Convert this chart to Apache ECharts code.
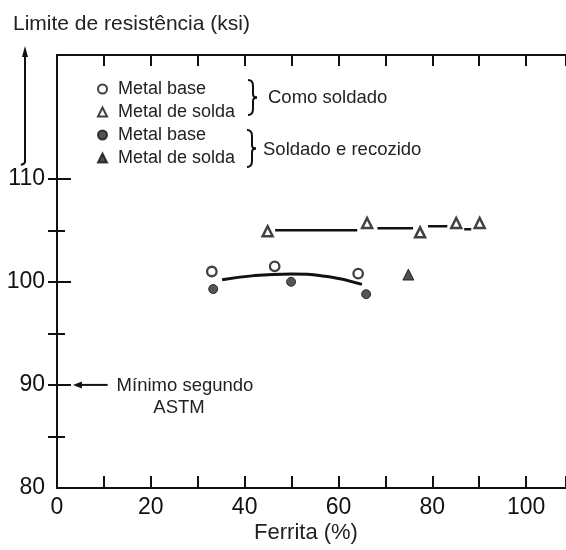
<!DOCTYPE html>
<html><head><meta charset="utf-8">
<script src="https://cdn.jsdelivr.net/npm/echarts@6/dist/echarts.min.js"></script>
<style>html,body{margin:0;padding:0;background:#fff}#c{width:566px;height:550px}</style>
</head><body><div id="c"></div>
<script>
// ---- data ----
const baseAsWeldedX = [33.0, 46.4, 64.2];
const baseAsWeldedY = [101.0, 101.5, 100.8];
const weldAsWeldedX = [44.9, 66.1, 77.4, 85.1, 90.1];
const weldAsWeldedY = [104.9, 105.7, 104.8, 105.7, 105.7];
const baseAnnealedX = [33.3, 49.9, 65.9];
const baseAnnealedY = [99.3, 100.0, 98.8];
const weldAnnealedX = [74.9];
const weldAnnealedY = [100.7];
const baseCurveX = [35.2, 42, 50, 58, 65];
const baseCurveY = [100.2, 100.6, 100.75, 100.5, 99.75];
const weldSegX = [[46.5, 64.0], [68.3, 75.9], [79.1, 83.2], [86.8, 88.3]];
const weldSegY = [[105.0, 105.0], [105.2, 105.2], [105.4, 105.4], [105.1, 105.1]];
const xTickLabels = [0, 20, 40, 60, 80, 100];
const yTickLabels = [80, 90, 100, 110];
const yMinorTicks = [85, 95, 105];
const yRightTicks = [85, 90, 95, 100, 105, 110];
const astmMin = 90;
const legendNames = ['Metal base|cs', 'Metal de solda|cs', 'Metal base|sr', 'Metal de solda|sr'];

const zip = (xs, ys) => xs.map((x, i) => [x, ys[i]]);
const INK = '#111';
const FONT = 'Liberation Sans, Arial, sans-serif';

const chart = echarts.init(document.getElementById('c'), null, {renderer: 'canvas'});

const yBase = {min: 80, max: 122, interval: 5, splitLine: {show: false}, gridIndex: 0};
const xMax = 108.5;
const series = [];
series.push({type: 'line', data: zip(baseCurveX, baseCurveY), smooth: true, showSymbol: false,
  lineStyle: {color: INK, width: 3}, z: 2, silent: true});
weldSegX.forEach((sx, i) => series.push({type: 'line', data: zip(sx, weldSegY[i]), showSymbol: false,
  lineStyle: {color: INK, width: 2.5}, z: 2, silent: true}));
series.push({name: legendNames[0], type: 'scatter', data: zip(baseAsWeldedX, baseAsWeldedY), symbol: 'circle', symbolSize: 9.5,
  itemStyle: {color: '#fff', borderColor: INK, borderWidth: 2.3}, z: 5});
series.push({name: legendNames[1], type: 'scatter', data: zip(weldAsWeldedX, weldAsWeldedY), symbol: 'triangle', symbolSize: 10,
  itemStyle: {color: '#fff', borderColor: INK, borderWidth: 2.5}, z: 5});
series.push({name: legendNames[2], type: 'scatter', data: zip(baseAnnealedX, baseAnnealedY), symbol: 'circle', symbolSize: 9,
  itemStyle: {color: '#2a2a2a', borderColor: INK, borderWidth: 1}, z: 5});
series.push({name: legendNames[3], type: 'scatter', data: zip(weldAnnealedX, weldAnnealedY), symbol: 'triangle', symbolSize: 11,
  itemStyle: {color: '#222', borderColor: INK, borderWidth: 1}, z: 5});

chart.setOption({
  animation: false,
  backgroundColor: '#fff',
  grid: {left: 57, top: 55, right: 0, bottom: 62, containLabel: false},
  legend: {
    data: legendNames.map((n, i) => ({name: n, icon: i % 2 ? 'triangle' : 'circle'})),
    orient: 'vertical', left: 97, top: 80, padding: 0, itemWidth: 9, itemHeight: 9, itemGap: 5,
    selectedMode: false,
    formatter: n => n.split('|')[0],
    textStyle: {fontFamily: FONT, fontSize: 18, lineHeight: 18, color: '#222', padding: [0, 0, 0, 6]}
  },
  xAxis: [
    {type: 'value', position: 'bottom', min: 0, max: xMax, interval: 10, splitLine: {show: false},
      axisLine: {show: true, onZero: false, lineStyle: {color: INK, width: 2}},
      axisTick: {inside: true, length: 12, lineStyle: {color: INK, width: 2}},
      axisLabel: {customValues: xTickLabels, margin: 8, fontFamily: FONT, fontSize: 23, color: INK}},
    {type: 'value', position: 'top', min: 0, max: xMax, interval: 10, splitLine: {show: false},
      axisLine: {show: true, onZero: false, lineStyle: {color: INK, width: 2}},
      axisTick: {inside: true, length: 11, lineStyle: {color: INK, width: 2}},
      axisLabel: {show: false}}
  ],
  yAxis: [
    Object.assign({type: 'value', position: 'left',
      axisLine: {show: true, onZero: false, lineStyle: {color: INK, width: 2}},
      axisTick: {inside: true, length: 14, customValues: yTickLabels, lineStyle: {color: INK, width: 2}},
      axisLabel: {customValues: yTickLabels, margin: 12, fontFamily: FONT, fontSize: 23, color: INK}}, yBase),
    Object.assign({type: 'value', position: 'left',
      axisLine: {show: false},
      axisTick: {show: true, inside: true, length: 8, customValues: yMinorTicks, lineStyle: {color: INK, width: 2}},
      axisLabel: {show: false}}, yBase),
    Object.assign({type: 'value', position: 'right',
      axisLine: {show: false},
      axisTick: {show: true, inside: true, length: 9, customValues: yRightTicks, lineStyle: {color: INK, width: 2}},
      axisLabel: {show: false}}, yBase)
  ],
  series: series
});

// annotations anchored to the axes
const pA = chart.convertToPixel({xAxisIndex: 0, yAxisIndex: 0}, [3.4, astmMin]);
const pB = chart.convertToPixel({xAxisIndex: 0, yAxisIndex: 0}, [10.8, astmMin]);
const txt = (x, y, s, size, align) => ({type: 'text', x: x, y: y, silent: true,
  style: {text: s, fontFamily: FONT, fontSize: size, fill: '#222', align: align || 'left', verticalAlign: 'middle'}});
const stroke = {stroke: INK, lineWidth: 2, fill: null};
function brace(x, y0, y1) {
  const m = (y0 + y1) / 2, w = 5, t = 4;
  return [
    {type: 'bezierCurve', shape: {x1: x - w, y1: y0, x2: x, y2: y0 + 6, cpx1: x, cpy1: y0}, style: stroke},
    {type: 'line', shape: {x1: x, y1: y0 + 6, x2: x, y2: m - 3.5}, style: stroke},
    {type: 'bezierCurve', shape: {x1: x, y1: m - 3.5, x2: x + t, y2: m, cpx1: x, cpy1: m}, style: stroke},
    {type: 'bezierCurve', shape: {x1: x + t, y1: m, x2: x, y2: m + 3.5, cpx1: x, cpy1: m}, style: stroke},
    {type: 'line', shape: {x1: x, y1: m + 3.5, x2: x, y2: y1 - 6}, style: stroke},
    {type: 'bezierCurve', shape: {x1: x, y1: y1 - 6, x2: x - w, y2: y1, cpx1: x, cpy1: y1}, style: stroke}
  ];
}

chart.setOption({
  graphic: [
    txt(13, 24, 'Limite de resistência (ksi)', 21),
    {type: 'line', shape: {x1: 25, y1: 54, x2: 25, y2: 163}, style: {stroke: INK, lineWidth: 2}},
    {type: 'polyline', shape: {points: [[25, 163], [21, 165]]}, style: stroke},
    {type: 'polygon', shape: {points: [[25, 46], [22, 57], [28, 57]]}, style: {fill: INK}},
    ...brace(253, 80, 115),
    ...brace(252, 130, 167),
    txt(268, 98, 'Como soldado', 18.5),
    txt(263, 150, 'Soldado e recozido', 18.5),
    {type: 'line', shape: {x1: pA[0] + 6, y1: pA[1], x2: pB[0], y2: pB[1]}, style: {stroke: INK, lineWidth: 2}},
    {type: 'polygon', shape: {points: [[pA[0], pA[1]], [pA[0] + 9, pA[1] - 3.5], [pA[0] + 9, pA[1] + 3.5]]}, style: {fill: INK}},
    txt(185, pA[1] + 1, 'Mínimo segundo', 18.5, 'center'),
    txt(179, pA[1] + 23, 'ASTM', 18.5, 'center'),
    txt(306, 533, 'Ferrita (%)', 22, 'center')
  ]
});
</script></body></html>
